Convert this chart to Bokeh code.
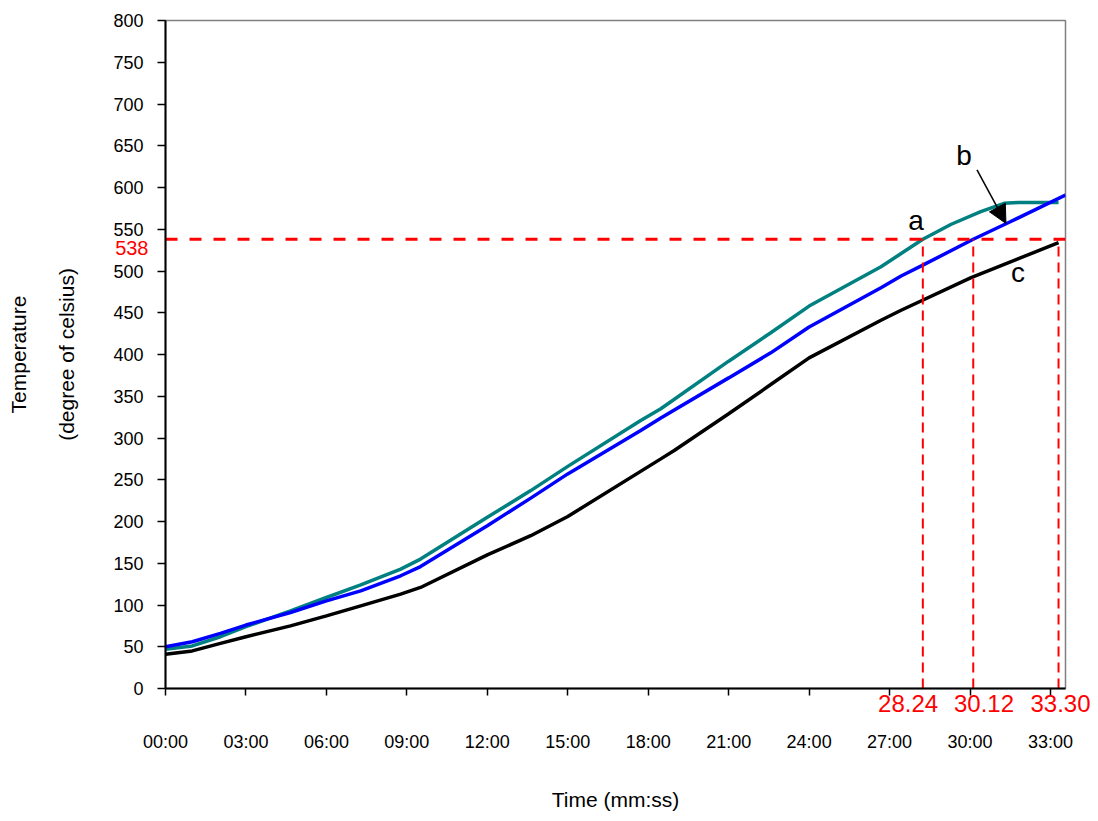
from bokeh.plotting import figure
from bokeh.models import Range1d, FixedTicker, Label, Arrow, NormalHead, LinearAxis
from bokeh.embed import file_html
from bokeh.resources import INLINE

# ---- data (time in minutes, temperature in degree Celsius) ----
t_a = [0, 1, 2.05, 3, 4.66, 6, 7.28, 8.77, 9.51, 12, 13.62, 15, 17.72, 18.47,
       21, 22.57, 24, 26.68, 27.43, 28.24, 29.3, 30.4, 31.27, 31.8, 33.3]
temp_a = [47, 51, 62, 74, 93, 109, 124, 143, 155, 205, 237, 266, 321, 335,
          392, 426, 458, 505, 521, 538, 556, 571, 581, 582, 582]

t_b = [0, 1, 2.05, 3, 4.66, 6, 7.28, 8.77, 9.51, 12, 13.62, 15, 17.72, 18.47,
       21, 22.57, 24, 26.68, 27.43, 28.24, 30.12, 31.5, 33.56]
temp_b = [50, 56, 66, 76, 91, 105, 117, 135, 146, 195, 228, 257, 309, 324,
          372, 402, 433, 480, 494, 507, 538, 559, 591]

t_c = [0, 1, 2.05, 3, 4.66, 6, 7.28, 8.77, 9.51, 12, 13.62, 15, 18.47, 18.97,
       21, 22.57, 24, 26.68, 27.43, 30.04, 33.3]
temp_c = [41, 45, 54, 62, 75, 87, 99, 113, 121, 160, 183, 206, 275, 285,
          329, 364, 396, 441, 453, 492, 534]

x_ticks = [0, 3, 6, 9, 12, 15, 18, 21, 24, 27, 30, 33]
x_tick_labels = ["00:00", "03:00", "06:00", "09:00", "12:00", "15:00", "18:00",
                 "21:00", "24:00", "27:00", "30:00", "33:00"]
y_ticks = list(range(0, 801, 50))

limit_temp = 538
cross_times = [28.24, 30.12, 33.30]
cross_labels = ["28.24", "30.12", "33.30"]

# layout-only: where the red labels are centred (they sit off their lines)
cross_label_pos = [27.69, 30.52, 33.40]
limit_label_pos = 527

FONT = "Liberation Sans"
RED = "#FF0000"

p = figure(width=1090, height=813, output_backend="svg", toolbar_location=None,
           x_range=Range1d(0, 33.56), y_range=Range1d(0, 800),
           min_border_left=165, min_border_right=25, min_border_top=20,
           min_border_bottom=125, background_fill_color="white",
           border_fill_color="white")

p.outline_line_color = "#808080"
p.outline_line_width = 1.5
p.xgrid.visible = False
p.ygrid.visible = False


def plain(ax):
    ax.axis_line_color = None
    ax.major_tick_line_color = None
    ax.minor_tick_line_color = None
    ax.major_tick_in = 0
    ax.major_tick_out = 0
    ax.minor_tick_in = 0
    ax.minor_tick_out = 0
    ax.major_label_text_font = FONT
    ax.axis_label_text_font = FONT
    ax.axis_label_text_font_style = "normal"
    ax.axis_label_text_color = "black"
    ax.axis_label_text_font_size = "21px"


# ---------------- x axes ----------------
# 1: axis line, black tick marks (as minor ticks) and the red crossing times
xa1 = p.xaxis[0]
plain(xa1)
xa1.axis_line_color = "black"
xa1.axis_line_width = 2
xa1.ticker = FixedTicker(ticks=cross_label_pos, minor_ticks=x_ticks)
xa1.major_label_overrides = {v: l for v, l in zip(cross_label_pos, cross_labels)}
xa1.minor_tick_line_color = "black"
xa1.minor_tick_line_width = 1.5
xa1.minor_tick_out = 7
xa1.major_label_text_color = RED
xa1.major_label_text_font_size = "24px"
xa1.major_label_standoff = -1

# 2: the time tick labels and the axis title
xa2 = LinearAxis()
plain(xa2)
xa2.ticker = FixedTicker(ticks=x_ticks)
xa2.major_label_overrides = {t: l for t, l in zip(x_ticks, x_tick_labels)}
xa2.major_label_text_font_size = "18px"
xa2.major_label_text_color = "black"
xa2.major_label_standoff = 17
xa2.axis_label = "Time (mm:ss)"
xa2.axis_label_standoff = 33
p.add_layout(xa2, "below")

# ---------------- y axes ----------------
ya1 = p.yaxis[0]
plain(ya1)
ya1.axis_line_color = "black"
ya1.axis_line_width = 2
ya1.ticker = FixedTicker(ticks=y_ticks)
ya1.major_tick_line_color = "black"
ya1.major_tick_line_width = 1.5
ya1.major_tick_out = 8
ya1.major_label_standoff = 14
ya1.major_label_text_font_size = "18px"
ya1.major_label_text_color = "black"

ya2 = LinearAxis()
plain(ya2)
ya2.ticker = FixedTicker(ticks=[limit_label_pos])
ya2.major_label_overrides = {limit_label_pos: str(limit_temp)}
ya2.major_label_text_color = RED
ya2.major_label_text_font_size = "20px"
ya2.major_label_standoff = -38
p.add_layout(ya2, "left")

ya3 = LinearAxis()
plain(ya3)
ya3.ticker = FixedTicker(ticks=[])
ya3.axis_label = "(degree of celsius)"
ya3.axis_label_standoff = 33
p.add_layout(ya3, "left")

ya4 = LinearAxis()
plain(ya4)
ya4.ticker = FixedTicker(ticks=[])
ya4.axis_label = "Temperature"
ya4.axis_label_standoff = 22
p.add_layout(ya4, "left")

# ---------------- curves ----------------
p.line(t_a, temp_a, line_color="#008080", line_width=3.5)
p.line(t_b, temp_b, line_color="#0000FF", line_width=3.5)
p.line(t_c, temp_c, line_color="black", line_width=3.5)

# red guide lines
p.line([0, 33.56], [limit_temp, limit_temp], line_color=RED, line_width=3,
       line_dash="12 12")
for tc in cross_times:
    p.line([tc, tc], [0, limit_temp], line_color=RED, line_width=2,
           line_dash="10 6")

# curve letters and arrow
for xl, yl, lab in [(27.99, 560, "a"), (29.78, 638, "b"), (31.79, 498, "c")]:
    p.add_layout(Label(x=xl, y=yl, text=lab, text_align="center",
                       text_baseline="middle", text_color="black", text_font=FONT,
                       text_font_size="28px"))
p.add_layout(Arrow(x_start=30.26, y_start=621, x_end=31.34, y_end=557,
                   line_color="black", line_width=1.5,
                   end=NormalHead(size=18, fill_color="black", line_color="black")))

open("out.html", "w").write(file_html(p, INLINE))
